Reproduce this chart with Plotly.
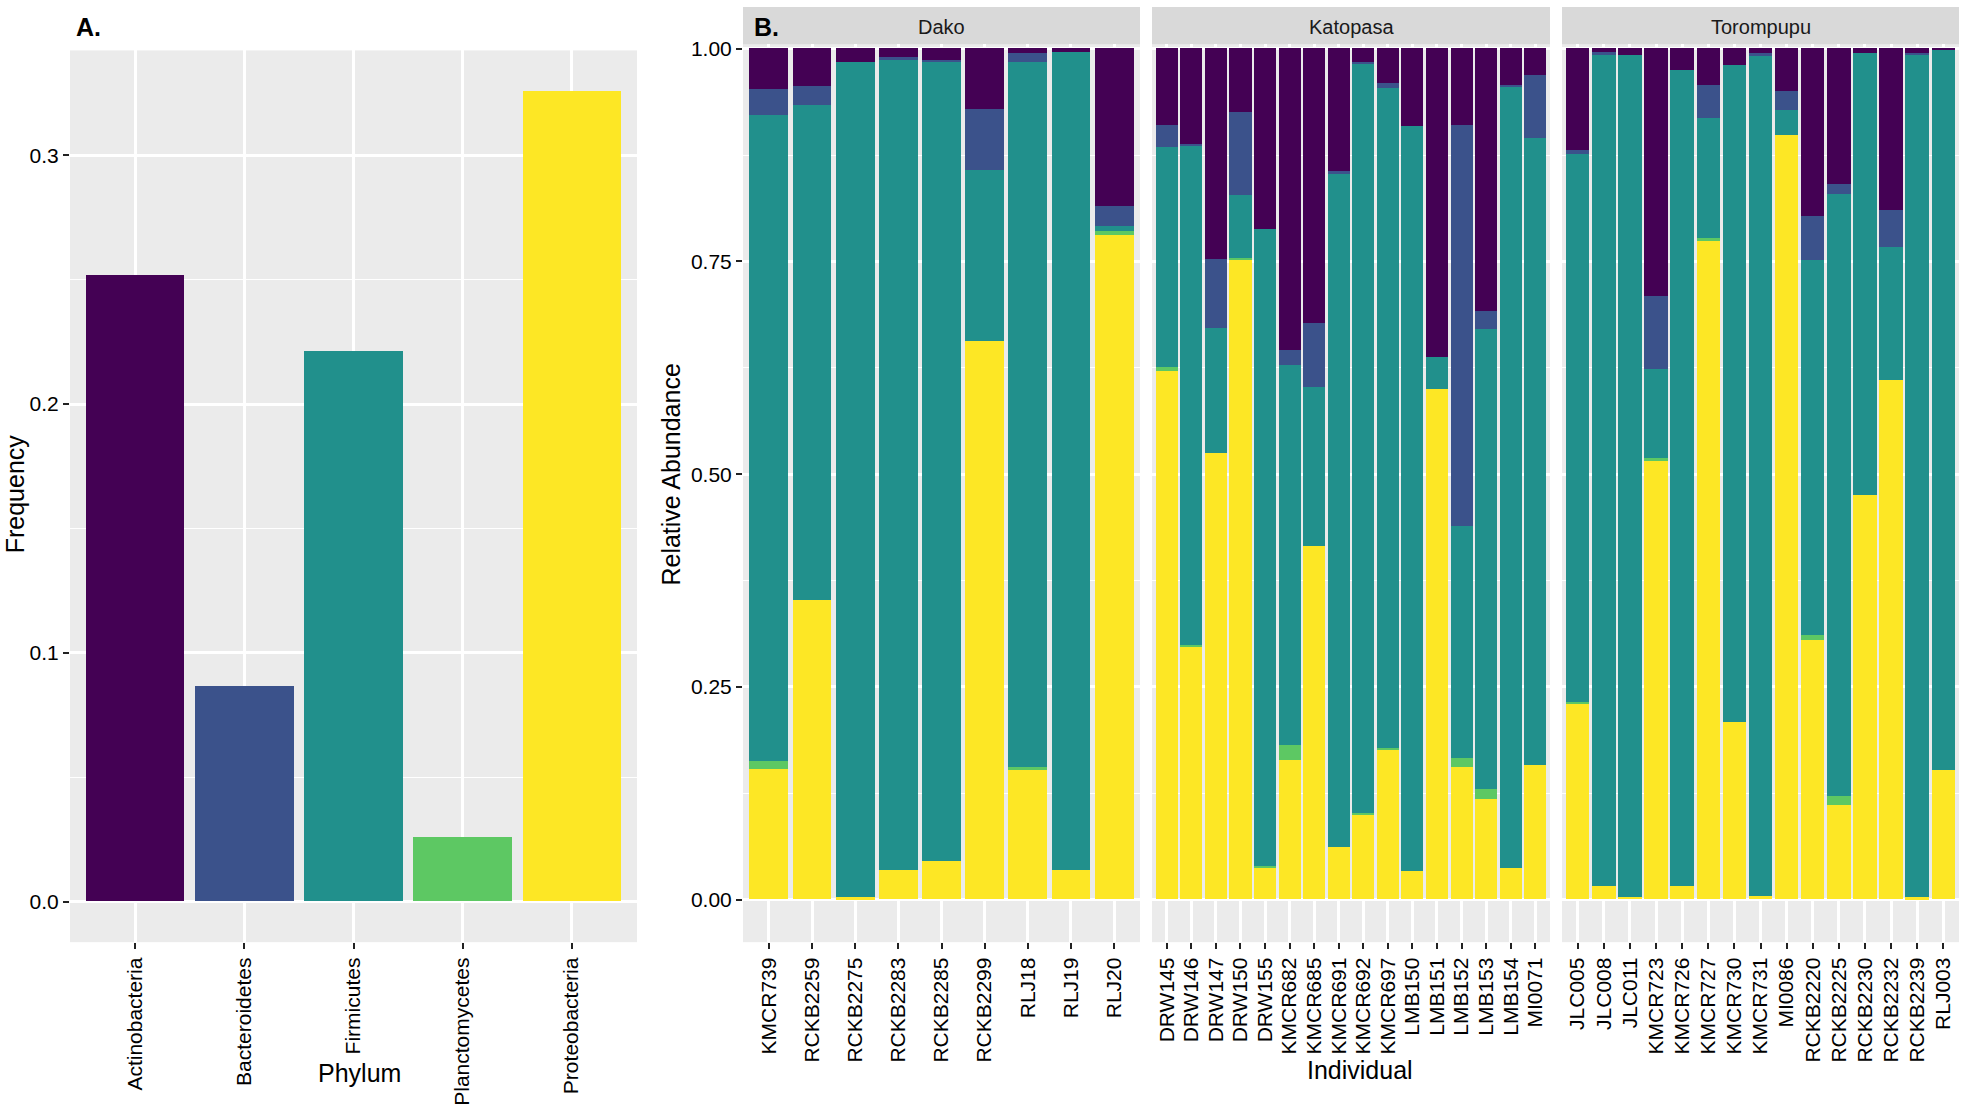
import plotly.graph_objects as go

# ---------------- DATA ----------------
phyla = ["Actinobacteria", "Bacteroidetes", "Firmicutes", "Planctomycetes", "Proteobacteria"]
phylum_freq = [0.2517, 0.0867, 0.2211, 0.0258, 0.3259]

sites = ["Dako", "Katopasa", "Torompupu"]

dako_ids = ["KMCR739", "RCKB2259", "RCKB2275", "RCKB2283", "RCKB2285", "RCKB2299", "RLJ18", "RLJ19", "RLJ20"]
dako_actino = [0.048, 0.044, 0.016, 0.010, 0.014, 0.071, 0.006, 0.004, 0.185]
dako_bactero = [0.030, 0.023, 0.000, 0.004, 0.002, 0.072, 0.010, 0.000, 0.024]
dako_firmi = [0.760, 0.581, 0.982, 0.952, 0.939, 0.201, 0.829, 0.962, 0.006]
dako_plancto = [0.009, 0.000, 0.000, 0.000, 0.000, 0.000, 0.003, 0.000, 0.004]
dako_proteo = [0.153, 0.352, 0.002, 0.034, 0.045, 0.656, 0.152, 0.034, 0.781]

kato_ids = ["DRW145", "DRW146", "DRW147", "DRW150", "DRW155", "KMCR682", "KMCR685", "KMCR691",
            "KMCR692", "KMCR697", "LMB150", "LMB151", "LMB152", "LMB153", "LMB154", "MI0071"]
kato_actino = [0.090, 0.112, 0.248, 0.075, 0.212, 0.355, 0.323, 0.144, 0.016, 0.041, 0.091, 0.363, 0.090, 0.309, 0.043, 0.031]
kato_bactero = [0.026, 0.002, 0.081, 0.097, 0.000, 0.017, 0.075, 0.004, 0.003, 0.006, 0.000, 0.000, 0.472, 0.021, 0.003, 0.075]
kato_firmi = [0.259, 0.587, 0.147, 0.075, 0.749, 0.447, 0.187, 0.791, 0.880, 0.775, 0.876, 0.037, 0.272, 0.541, 0.918, 0.736]
kato_plancto = [0.004, 0.003, 0.000, 0.001, 0.002, 0.018, 0.000, 0.000, 0.001, 0.002, 0.000, 0.000, 0.011, 0.011, 0.000, 0.000]
kato_proteo = [0.621, 0.296, 0.524, 0.752, 0.037, 0.163, 0.415, 0.061, 0.100, 0.176, 0.033, 0.600, 0.155, 0.118, 0.036, 0.158]

toro_ids = ["JLC005", "JLC008", "JLC011", "KMCR723", "KMCR726", "KMCR727", "KMCR730", "KMCR731",
            "MI0086", "RCKB2220", "RCKB2225", "RCKB2230", "RCKB2232", "RCKB2239", "RLJ003"]
toro_actino = [0.120, 0.004, 0.008, 0.291, 0.026, 0.043, 0.020, 0.006, 0.050, 0.197, 0.160, 0.005, 0.190, 0.006, 0.002]
toro_bactero = [0.004, 0.004, 0.000, 0.086, 0.000, 0.039, 0.000, 0.002, 0.023, 0.052, 0.011, 0.000, 0.044, 0.001, 0.000]
toro_firmi = [0.644, 0.977, 0.989, 0.105, 0.958, 0.141, 0.772, 0.988, 0.029, 0.440, 0.708, 0.520, 0.156, 0.991, 0.846]
toro_plancto = [0.002, 0.000, 0.000, 0.003, 0.000, 0.003, 0.000, 0.000, 0.000, 0.006, 0.010, 0.000, 0.000, 0.000, 0.000]
toro_proteo = [0.230, 0.015, 0.003, 0.515, 0.016, 0.774, 0.208, 0.004, 0.898, 0.305, 0.111, 0.475, 0.610, 0.002, 0.152]

# ---------------- STYLE ----------------
W, H = 1961, 1106
FONT = "Liberation Sans, Arial, Helvetica, sans-serif"
colors = ["#440154", "#3B528B", "#21908C", "#5DC863", "#FDE725"]
BG = "#EBEBEB"


def px(x):
    return x / W


def py(y):
    return 1 - y / H


fig = go.Figure()

# Panel A
fig.add_trace(go.Bar(
    x=list(range(1, len(phyla) + 1)), y=phylum_freq, width=0.9,
    marker=dict(color=colors, line=dict(width=0)),
    xaxis="x", yaxis="y", showlegend=False, hoverinfo="x+y"))

# Panel B
site_data = [
    (dako_ids, [dako_actino, dako_bactero, dako_firmi, dako_plancto, dako_proteo]),
    (kato_ids, [kato_actino, kato_bactero, kato_firmi, kato_plancto, kato_proteo]),
    (toro_ids, [toro_actino, toro_bactero, toro_firmi, toro_plancto, toro_proteo]),
]
for k, (ids, series) in enumerate(site_data):
    ax = k + 2
    xs = list(range(1, len(ids) + 1))
    # bottom of stack first: Proteobacteria ... Actinobacteria on top
    for j in range(len(phyla) - 1, -1, -1):
        fig.add_trace(go.Bar(
            x=xs, y=series[j], width=0.9, name=phyla[j],
            marker=dict(color=colors[j], line=dict(width=0)),
            xaxis=f"x{ax}", yaxis=f"y{ax}", showlegend=False,
            customdata=ids, hovertemplate="%{customdata}<br>" + phyla[j] + ": %{y}<extra></extra>"))

tickfont = dict(family=FONT, size=21, color="black")
common_x = dict(showgrid=True, gridcolor="white", gridwidth=2.5, zeroline=False,
                ticks="outside", ticklen=6, tickwidth=2, tickcolor="#222222",
                tickfont=tickfont, tickangle=-90, showline=False, fixedrange=True)
common_y = dict(showgrid=True, gridcolor="white", gridwidth=2.5, zeroline=False,
                ticks="outside", ticklen=6, tickwidth=2, tickcolor="#222222",
                tickfont=tickfont, showline=False, fixedrange=True)

layout = dict(
    width=W, height=H, margin=dict(l=0, r=0, t=0, b=0),
    paper_bgcolor="white", plot_bgcolor=BG, barmode="stack", bargap=0,
    font=dict(family=FONT, color="black"),
)

layout["xaxis"] = dict(common_x, domain=[px(70), px(637)], range=[0.4, len(phyla) + 0.6],
                       tickvals=list(range(1, len(phyla) + 1)), ticktext=phyla, anchor="y")
layout["yaxis"] = dict(common_y, domain=[py(948), py(44)], range=[-0.0163, 0.3422],
                       tickvals=[0, 0.1, 0.2, 0.3], ticktext=["0.0", "0.1", "0.2", "0.3"], anchor="x",
                       minor=dict(tickvals=[0.05, 0.15, 0.25], showgrid=True, gridcolor="white",
                                  gridwidth=1.2, ticks=""))

facet_x = [(743, 1140), (1152, 1550), (1562, 1959)]
for k, (ids, _) in enumerate(site_data):
    ax = k + 2
    x0, x1 = facet_x[k]
    layout[f"xaxis{ax}"] = dict(common_x, domain=[px(x0), px(x1)], range=[0.4, len(ids) + 0.6],
                                tickvals=list(range(1, len(ids) + 1)), ticktext=ids, anchor=f"y{ax}")
    layout[f"yaxis{ax}"] = dict(common_y, domain=[py(948), py(38)], range=[-0.05, 1.005],
                                tickvals=[0, 0.25, 0.5, 0.75, 1.0],
                                ticktext=["0.00", "0.25", "0.50", "0.75", "1.00"],
                                showticklabels=(k == 0), ticks="outside" if k == 0 else "",
                                anchor=f"x{ax}",
                                minor=dict(tickvals=[0.125, 0.375, 0.625, 0.875], showgrid=True,
                                           gridcolor="white", gridwidth=1.2, ticks=""))

shapes = []
annotations = []
for k, site in enumerate(sites):
    x0, x1 = facet_x[k]
    shapes.append(dict(type="rect", xref="paper", yref="paper", x0=px(x0), x1=px(x1),
                       y0=py(38), y1=1, fillcolor="#D9D9D9", line=dict(width=0), layer="below"))
    annotations.append(dict(text=site, xref="paper", yref="paper", x=px((x0 + x1) / 2), y=py(20),
                            showarrow=False, xanchor="center", yanchor="middle",
                            font=dict(family=FONT, size=20, color="#1A1A1A")))

annotations += [
    dict(text="<b>A.</b>", xref="paper", yref="paper", x=px(74), y=py(20), xanchor="left",
         yanchor="middle", showarrow=False, font=dict(family=FONT, size=25, color="black")),
    dict(text="<b>B.</b>", xref="paper", yref="paper", x=px(752), y=py(20), xanchor="left",
         yanchor="middle", showarrow=False, font=dict(family=FONT, size=25, color="black")),
    dict(text="Frequency", xref="paper", yref="paper", x=px(15), y=py(494), textangle=-90,
         xanchor="center", yanchor="middle", showarrow=False, font=dict(family=FONT, size=25, color="black")),
    dict(text="Relative Abundance", xref="paper", yref="paper", x=px(671), y=py(474), textangle=-90,
         xanchor="center", yanchor="middle", showarrow=False, font=dict(family=FONT, size=25, color="black")),
    dict(text="Phylum", xref="paper", yref="paper", x=px(359), y=py(1081),
         xanchor="center", yanchor="middle", showarrow=False, font=dict(family=FONT, size=25, color="black")),
    dict(text="Individual", xref="paper", yref="paper", x=px(1360), y=py(1078),
         xanchor="center", yanchor="middle", showarrow=False, font=dict(family=FONT, size=25, color="black")),
]
layout["shapes"] = shapes
layout["annotations"] = annotations

fig.update_layout(**layout)

post = (
    "document.documentElement.style.margin='0';"
    "document.documentElement.style.padding='0';"
    "document.documentElement.style.overflow='hidden';"
    "document.body.style.margin='0';"
    "document.body.style.padding='0';"
    "document.body.style.overflow='hidden';"
    "var gd=document.getElementById('{plot_id}');"
    "var w=window.innerWidth||%d, h=window.innerHeight||%d;"
    "gd.style.width=w+'px'; gd.style.height=h+'px';"
    "Plotly.relayout(gd,{width:w,height:h});" % (W, H)
)
fig.write_html("out.html", config={"displayModeBar": False}, post_script=post)
